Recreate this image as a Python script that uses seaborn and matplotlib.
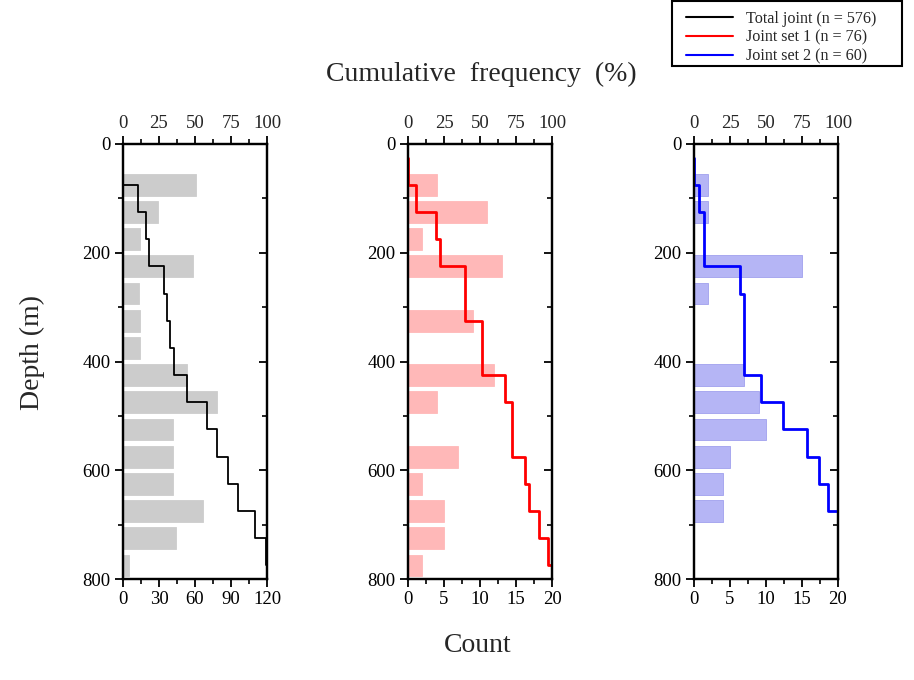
import numpy as np
import pandas as pd
import matplotlib
matplotlib.use("Agg")
import matplotlib.pyplot as plt
import seaborn as sns
from matplotlib.ticker import MultipleLocator
from matplotlib.lines import Line2D
from matplotlib.patches import Rectangle

sns.set_theme(style="white")
plt.rcParams['font.family'] = ['Liberation Serif', 'DejaVu Serif']
plt.rcParams['mathtext.fontset'] = 'stix'

# ---- data ----
depth_centers = [25, 75, 125, 175, 225, 275, 325, 375, 425, 475, 525, 575, 625, 675, 725, 775]
total_counts = [0, 61, 29, 14, 58, 13, 14, 14, 53, 78, 42, 42, 42, 67, 44, 5]
set1_counts = [0, 4, 11, 2, 13, 0, 9, 0, 12, 4, 0, 7, 2, 5, 5, 2]
set2_counts = [0, 2, 2, 0, 15, 2, 0, 0, 7, 9, 10, 5, 4, 4, 0, 0]
labels = ["Total joint (n = 576)", "Joint set 1 (n = 76)", "Joint set 2 (n = 60)"]
count_max = [120, 20, 20]
count_step = [30, 5, 5]

series = [total_counts, set1_counts, set2_counts]
bar_colors = ["#cccccc", "#ffb8b8", "#b5b5f5"]
bar_edges = ["#cccccc", "#ffb8b8", "#a0a0ee"]
line_colors = ["#000000", "#ff0000", "#0000ff"]
line_widths = [1.3, 2.0, 2.0]

W, H = 914, 680
fig = plt.figure(figsize=(W / 100, H / 100), dpi=100)

lefts = [123, 408, 694]
ax_w = 144
ax_top, ax_bot = 144, 579

tick_fs = 13.5
for i, counts in enumerate(series):
    ax = fig.add_axes([lefts[i] / W, 1 - ax_bot / H, ax_w / W, (ax_bot - ax_top) / H])
    df = pd.DataFrame({"depth": depth_centers, "count": counts})
    sns.barplot(data=df, x="count", y="depth", orient="h", native_scale=True,
                color=bar_colors[i], saturation=1, width=0.8, errorbar=None,
                edgecolor=bar_edges[i], linewidth=0.6, ax=ax)
    ax.set_xlim(0, count_max[i])
    ax.set_ylim(800, 0)
    ax.xaxis.set_major_locator(MultipleLocator(count_step[i]))
    ax.xaxis.set_minor_locator(MultipleLocator(count_step[i] / 2))
    ax.yaxis.set_major_locator(MultipleLocator(200))
    ax.yaxis.set_minor_locator(MultipleLocator(100))
    ax.set_xlabel("")
    ax.set_ylabel("")
    ax.tick_params(axis="both", which="major", direction="out", length=6, width=1.3,
                   labelsize=tick_fs, color="black", labelcolor="black", pad=3)
    ax.tick_params(axis="both", which="minor", direction="out", length=3.5, width=1.2,
                   color="black")
    ax.tick_params(axis="x", bottom=True, which="both")
    ax.tick_params(axis="y", left=True, right=False, labelleft=True, which="both")
    for sp in ax.spines.values():
        sp.set_color("black")
        sp.set_linewidth(1.6)

    # cumulative frequency on top axis
    arr = np.array(counts, dtype=float)
    cum = np.cumsum(arr) / arr.sum() * 100
    last = int(np.nonzero(arr)[0][-1])
    cdf = pd.DataFrame({"cum": cum[:last + 1], "depth": depth_centers[:last + 1]})
    ax2 = ax.twiny()
    sns.lineplot(data=cdf, x="cum", y="depth", sort=False, estimator=None,
                 drawstyle="steps-pre", color=line_colors[i], linewidth=line_widths[i],
                 ax=ax2)
    ax2.set_xlim(0, 100)
    ax2.set_ylim(800, 0)
    ax2.set_xlabel("")
    ax2.set_ylabel("")
    ax2.xaxis.set_major_locator(MultipleLocator(25))
    ax2.xaxis.set_minor_locator(MultipleLocator(12.5))
    ax2.tick_params(axis="x", which="major", direction="out", length=6, width=1.3,
                    labelsize=tick_fs, top=True, labeltop=True, color="black", pad=3)
    ax2.tick_params(axis="x", which="minor", direction="out", length=3.5, width=1.2,
                    top=True, color="black")
    ax2.yaxis.set_visible(True)
    ax2.yaxis.set_major_locator(MultipleLocator(200))
    ax2.yaxis.set_minor_locator(MultipleLocator(100))
    ax2.tick_params(axis="y", which="both", left=False, right=True, labelleft=False,
                    labelright=False, direction="in", color="black")
    ax2.tick_params(axis="y", which="major", length=6, width=1.3)
    ax2.tick_params(axis="y", which="minor", length=3.5, width=1.2)
    for sp in ax2.spines.values():
        sp.set_color("black")
        sp.set_linewidth(1.6)

fig.text(481 / W, 1 - 74 / H, "Cumulative  frequency  (%)", ha="center", va="center", fontsize=20)
fig.text(478 / W, 1 - 645 / H, "Count", ha="center", va="center", fontsize=20)
fig.text(32 / W, 1 - 352 / H, "Depth (m)", ha="center", va="center", rotation=90, fontsize=20)

# legend frame drawn separately to match padding
fig.patches.append(Rectangle((672 / W, 1 - 66 / H), 230 / W, 65 / H, transform=fig.transFigure,
                             facecolor="white", edgecolor="black", linewidth=1.5, zorder=5))
handles = [Line2D([0], [0], color=c, lw=1.5) for c in line_colors]
leg = fig.legend(handles, labels, loc="upper left", bbox_to_anchor=(686 / W, 1 - 11 / H),
                 borderaxespad=0, borderpad=0, fontsize=11.6, frameon=False,
                 handlelength=2.9, labelspacing=0.17, handletextpad=0.85)
leg.set_zorder(6)

fig.savefig("out.png", dpi=100)
